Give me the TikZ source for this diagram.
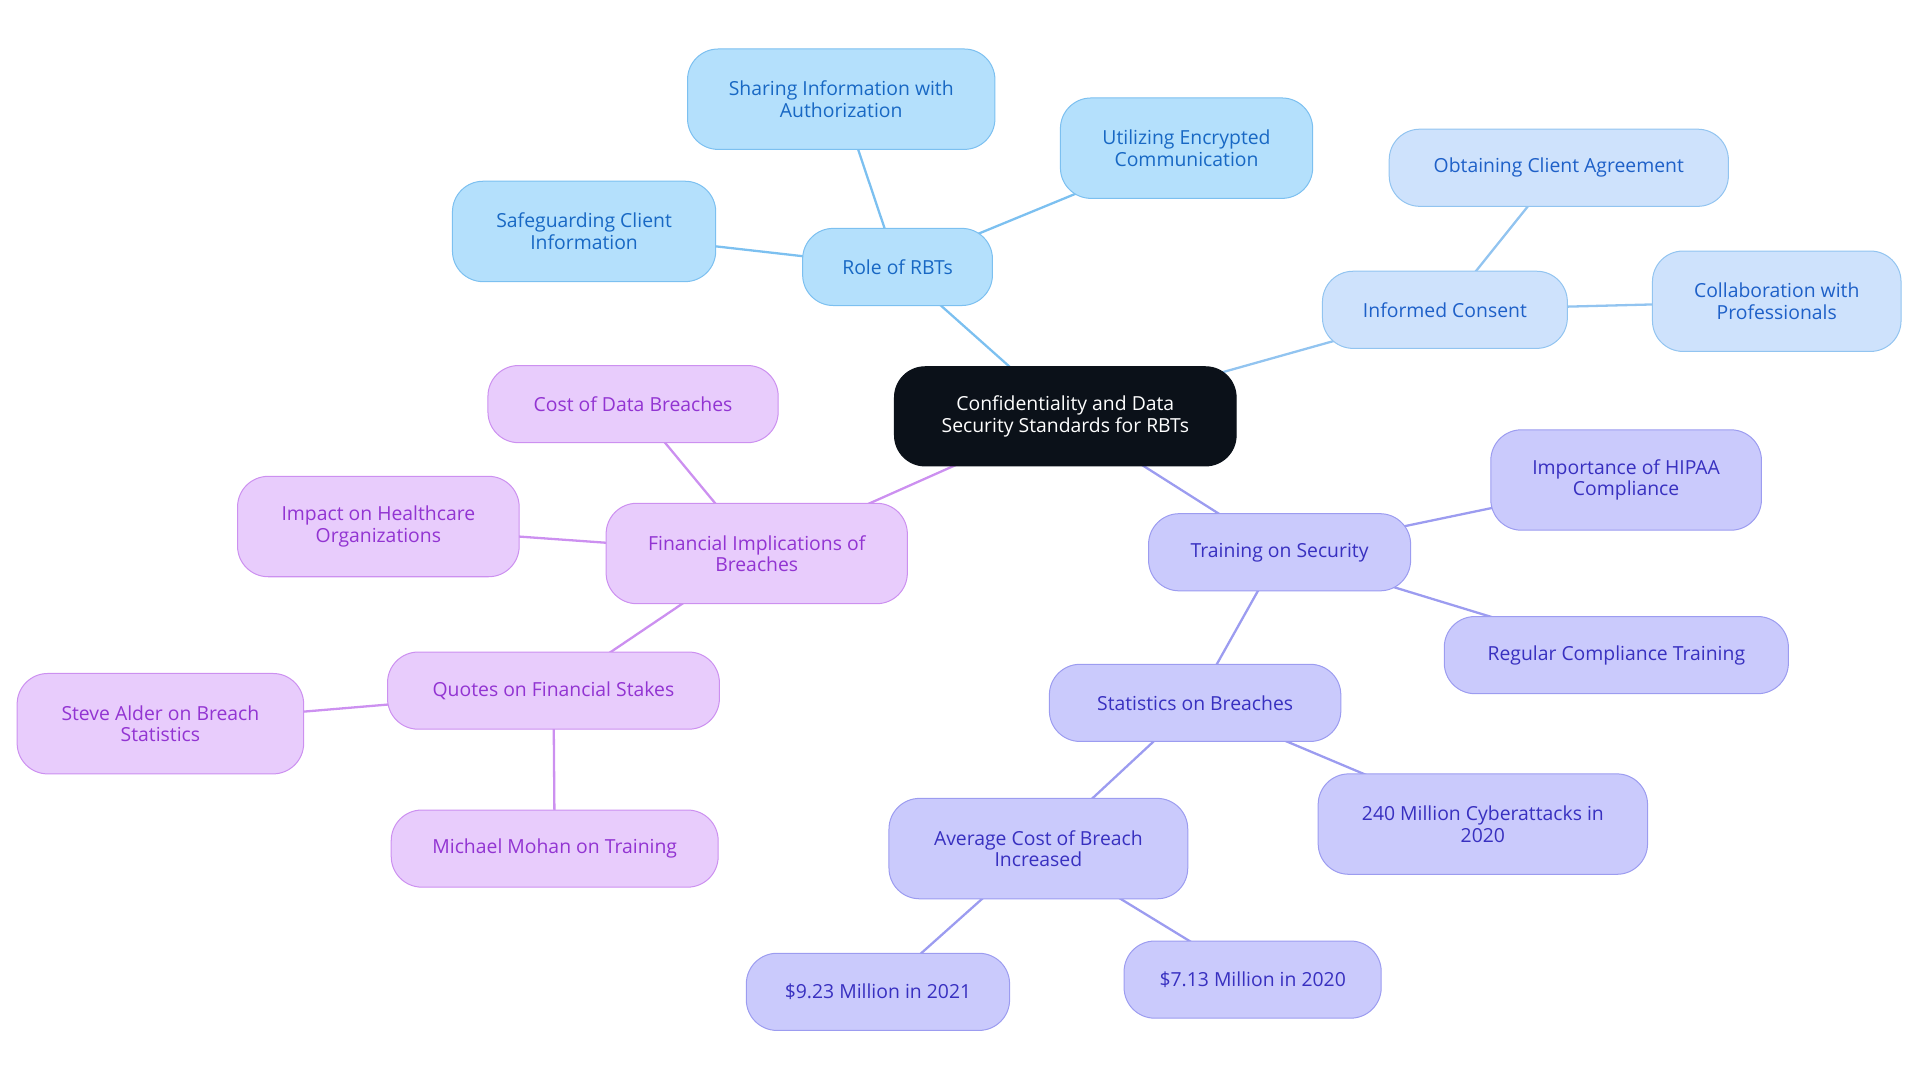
\documentclass[tikz,border=0pt]{standalone}
\usepackage{fontspec}
\setmainfont{Open Sans}
\begin{document}
\begin{tikzpicture}[x=0.03cm,y=-0.03cm]

% ------------------------------------------------ mind map colors
\definecolor{mm_root}{RGB}{11,17,25}
\definecolor{mm_bfill}{RGB}{180,224,252}  \definecolor{mm_bline}{RGB}{124,192,240} \definecolor{mm_btext}{RGB}{24,104,196}
\definecolor{mm_lfill}{RGB}{206,226,252}  \definecolor{mm_lline}{RGB}{146,196,240} \definecolor{mm_ltext}{RGB}{30,96,200}
\definecolor{mm_pfill}{RGB}{202,202,252}  \definecolor{mm_pline}{RGB}{156,156,240} \definecolor{mm_ptext}{RGB}{56,48,192}
\definecolor{mm_vfill}{RGB}{232,204,252}  \definecolor{mm_vline}{RGB}{204,144,240} \definecolor{mm_vtext}{RGB}{146,52,210}

\tikzset{
  box/.style n args={3}{draw=#1line,fill=#1fill,text=#1text,line width=0.7pt,
    rounded corners=0.75cm,align=center,font=\fontsize{13.5}{15}\selectfont,
    minimum width=#2*0.03cm,minimum height=#3*0.03cm,inner sep=1pt},
  link/.style={draw=#1line,line width=1.6pt}
}

\useasboundingbox (0,0) rectangle (1568,884);

% edges first (drawn under nodes)
\coordinate (r) at (870,340);
\coordinate (rb) at (733,218);  \coordinate (ic) at (1180,253);
\coordinate (ts) at (1045,451); \coordinate (fi) at (618,452);
\coordinate (st) at (976,574);  \coordinate (av) at (848,693);
\coordinate (qf) at (452,564);

\draw[link=mm_b] (r) -- (rb);
\draw[link=mm_b] (rb) -- (687,81);
\draw[link=mm_b] (rb) -- (969,121);
\draw[link=mm_b] (rb) -- (477,189);
\draw[link=mm_l] (r) -- (ic);
\draw[link=mm_l] (ic) -- (1273,137);
\draw[link=mm_l] (ic) -- (1451,246);
\draw[link=mm_p] (r) -- (ts);
\draw[link=mm_p] (ts) -- (1328,392);
\draw[link=mm_p] (ts) -- (1320,535);
\draw[link=mm_p] (ts) -- (st);
\draw[link=mm_p] (st) -- (1211,673);
\draw[link=mm_p] (st) -- (av);
\draw[link=mm_p] (av) -- (717,810);
\draw[link=mm_p] (av) -- (1023,800);
\draw[link=mm_v] (r) -- (fi);
\draw[link=mm_v] (fi) -- (517,330);
\draw[link=mm_v] (fi) -- (309,430);
\draw[link=mm_v] (fi) -- (qf);
\draw[link=mm_v] (qf) -- (131,591);
\draw[link=mm_v] (qf) -- (453,693);

% nodes
\node[box={mm_b}{279}{81},fill=mm_root,draw=mm_root,text=white] (root) at (r) {Confidentiality and Data\\Security Standards for RBTs};

\node[box={mm_b}{155}{63}] (role) at (rb) {Role of RBTs};
\node[box={mm_b}{251}{82}] (share) at (687,81) {Sharing Information with\\Authorization};
\node[box={mm_b}{206}{82}] (encr) at (969,121) {Utilizing Encrypted\\Communication};
\node[box={mm_b}{215}{82}] (safe) at (477,189) {Safeguarding Client\\Information};

\node[box={mm_l}{200}{63}] (consent) at (ic) {Informed Consent};
\node[box={mm_l}{277}{63}] (agree) at (1273,137) {Obtaining Client Agreement};
\node[box={mm_l}{203}{82}] (collab) at (1451,246) {Collaboration with\\Professionals};

\node[box={mm_p}{214}{63}] (train) at (ts) {Training on Security};
\node[box={mm_p}{221}{82}] (hipaa) at (1328,392) {Importance of HIPAA\\Compliance};
\node[box={mm_p}{281}{63}] (regular) at (1320,535) {Regular Compliance Training};
\node[box={mm_p}{238}{63}] (stats) at (st) {Statistics on Breaches};
\node[box={mm_p}{269}{82}] (attacks) at (1211,673) {240 Million Cyberattacks in\\2020};
\node[box={mm_p}{244}{82}] (avg) at (av) {Average Cost of Breach\\Increased};
\node[box={mm_p}{215}{63}] (y21) at (717,810) {\$9.23 Million in 2021};
\node[box={mm_p}{210}{63}] (y20) at (1023,800) {\$7.13 Million in 2020};

\node[box={mm_v}{246}{82}] (fin) at (fi) {Financial Implications of\\Breaches};
\node[box={mm_v}{237}{63}] (cost) at (517,330) {Cost of Data Breaches};
\node[box={mm_v}{230}{82}] (impact) at (309,430) {Impact on Healthcare\\Organizations};
\node[box={mm_v}{271}{63}] (quotes) at (qf) {Quotes on Financial Stakes};
\node[box={mm_v}{234}{82}] (steve) at (131,591) {Steve Alder on Breach\\Statistics};
\node[box={mm_v}{267}{63}] (mohan) at (453,693) {Michael Mohan on Training};

\end{tikzpicture}
\end{document}
